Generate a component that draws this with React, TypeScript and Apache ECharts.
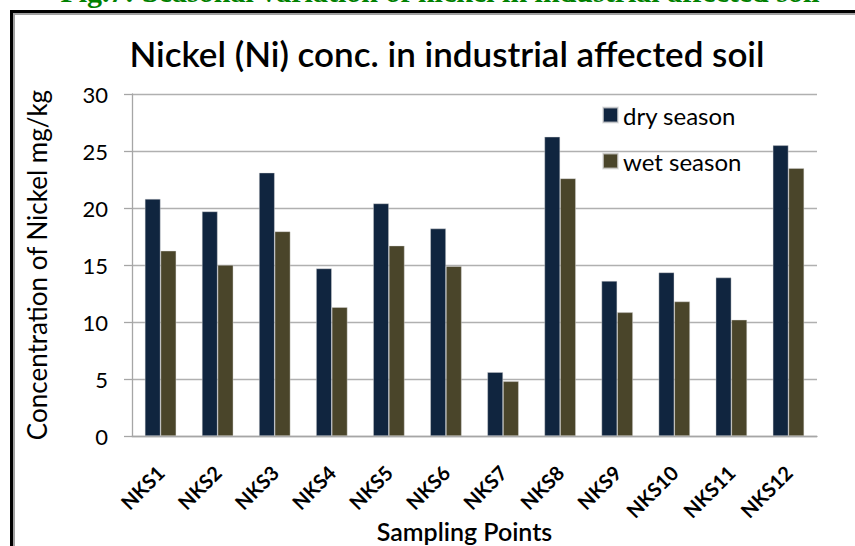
import React, { useEffect, useRef } from "react";
import * as echarts from "echarts";

const categories = ["NKS1", "NKS2", "NKS3", "NKS4", "NKS5", "NKS6", "NKS7", "NKS8", "NKS9", "NKS10", "NKS11", "NKS12"];
const drySeason = [20.8, 19.7, 23.1, 14.7, 20.4, 18.2, 5.6, 26.25, 13.6, 14.35, 13.9, 25.5];
const wetSeason = [16.25, 15.0, 17.95, 11.3, 16.7, 14.9, 4.8, 22.6, 10.85, 11.8, 10.2, 23.5];
const yTicks = { min: 0, max: 30, interval: 5 };

const FONT = "Lato, 'Open Sans', sans-serif";

export default function App() {
  const ref = useRef<HTMLDivElement>(null);
  useEffect(() => {
    if (!ref.current) return;
    const chart = echarts.init(ref.current, null, { renderer: "svg" });
    chart.setOption({
      animation: false,
      backgroundColor: "#ffffff",
      title: {
        text: "Nickel (Ni) conc. in industrial affected soil",
        left: 442,
        top: 30,
        textAlign: "center",
        textStyle: { fontFamily: FONT, fontSize: 35, fontWeight: 600, color: "#000" },
      },
      graphic: [
        {
          type: "text",
          x: 440,
          y: -24,
          style: {
            text: "Fig.7: Seasonal variation of nickel in industrial affected soil",
            font: "bold 30px 'Liberation Serif', serif",
            fill: "#008000",
            align: "center",
            verticalAlign: "top",
          },
        },
        { type: "rect", shape: { x: 10, y: 10, width: 845, height: 3 }, style: { fill: "#000" } },
        { type: "rect", shape: { x: 10, y: 10, width: 3, height: 536 }, style: { fill: "#000" } },
        { type: "rect", shape: { x: 13, y: 13, width: 842, height: 2 }, style: { fill: "#a0a0a0" } },
        { type: "rect", shape: { x: 13, y: 13, width: 2, height: 533 }, style: { fill: "#a0a0a0" } },
      ],
      legend: {
        orient: "vertical",
        left: 597,
        top: 98,
        itemWidth: 15,
        itemHeight: 15,
        itemGap: 22,
        icon: "rect",
        textStyle: { fontFamily: FONT, fontSize: 24, color: "#000" },
        data: ["dry season", "wet season"],
      },
      grid: { left: 132, right: 38, top: 94, bottom: 110, containLabel: false, outerBoundsMode: "none" },
      xAxis: {
        type: "category",
        data: categories,
        name: "Sampling Points",
        nameLocation: "middle",
        nameGap: 82,
        nameMoveOverlap: false,
        nameTextStyle: {
          fontFamily: FONT,
          fontSize: 25,
          fontWeight: 600,
          color: "#000",
          verticalAlign: "top",
          padding: [0, 20, 0, 0],
        },
        axisLine: { lineStyle: { color: "#a6a6a6", width: 1.3 } },
        axisTick: { show: false },
        axisLabel: {
          rotate: 45,
          margin: 33,
          fontFamily: FONT,
          fontSize: 20,
          fontWeight: "bold",
          color: "#000",
        },
      },
      yAxis: {
        type: "value",
        min: yTicks.min,
        max: yTicks.max,
        interval: yTicks.interval,
        name: "Concentration of Nickel mg/kg",
        nameLocation: "middle",
        nameGap: 82,
        nameMoveOverlap: false,
        nameTextStyle: { fontFamily: FONT, fontSize: 26, color: "#000" },
        axisLine: { show: true, lineStyle: { color: "#a6a6a6", width: 1.3 } },
        axisTick: { show: true, length: 8, lineStyle: { color: "#a6a6a6", width: 1.3 } },
        axisLabel: { fontFamily: FONT, fontSize: 22, color: "#000", margin: 24 },
        splitLine: { lineStyle: { color: "#b0b0b0", width: 1.3 } },
      },
      series: [
        {
          name: "dry season",
          type: "bar",
          data: drySeason,
          barGap: "0%",
          barCategoryGap: "45%",
          itemStyle: { color: "#10253f", borderColor: "rgba(220,220,220,0.7)", borderWidth: 0.6 },
        },
        {
          name: "wet season",
          type: "bar",
          data: wetSeason,
          itemStyle: { color: "#4a452a", borderColor: "rgba(220,220,220,0.7)", borderWidth: 0.6 },
        },
      ],
    });
    return () => chart.dispose();
  }, []);
  return (
    <div
      ref={ref}
      style={{ position: "absolute", left: 0, top: 0, width: 855, height: 546 }}
    />
  );
}
